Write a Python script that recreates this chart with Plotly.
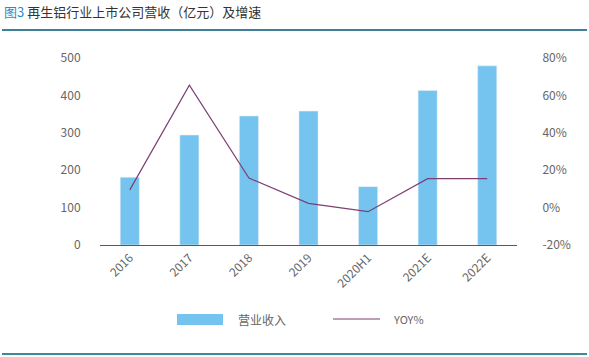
import plotly.graph_objects as go

categories = ["2016", "2017", "2018", "2019", "2020H1", "2021E", "2022E"]
revenue = [181, 294, 345, 358, 156, 413, 479]
yoy = [9.5, 65.5, 15.8, 2.3, -2.2, 15.5, 15.5]
left_ticks = [0, 100, 200, 300, 400, 500]
right_ticks = [-20, 0, 20, 40, 60, 80]

W, H = 589, 357
L, R, T, B = 100, 72, 58, 112
pw, ph = W - L - R, H - T - B

def px(x):
    return (x - L) / pw

def py(y):
    return (H - B - y) / ph

BAR = "#75c4ef"
LINE = "#7b3f72"
TXT = "#666666"
FONT = "Noto Sans CJK SC"

fig = go.Figure()
fig.add_trace(go.Bar(x=categories, y=revenue, marker_color=BAR, name="营业收入", yaxis="y"))
fig.add_trace(go.Scatter(x=categories, y=yoy, mode="lines", line=dict(color=LINE, width=1.2),
                         name="YOY%", yaxis="y2"))

fig.update_layout(
    width=W, height=H,
    margin=dict(l=L, r=R, t=T, b=B),
    paper_bgcolor="white", plot_bgcolor="white",
    showlegend=False,
    bargap=0.68,
    font=dict(family=FONT, color=TXT, size=12),
    xaxis=dict(tickangle=-45, showgrid=False, showline=True, linecolor="#595959", linewidth=1.2,
               ticks="", tickfont=dict(size=12, color=TXT)),
    yaxis=dict(range=[0, 500], tickvals=left_ticks, showgrid=False, zeroline=False,
               ticks="outside", ticklen=16, tickcolor="white", tickfont=dict(size=12, color=TXT)),
    yaxis2=dict(range=[-20, 80], tickvals=right_ticks, ticktext=[f"{v}%" for v in right_ticks],
                overlaying="y", side="right", showgrid=False, zeroline=False,
                ticks="outside", ticklen=22, tickcolor="white", tickfont=dict(size=12, color=TXT)),
)

shapes = [
    dict(type="line", xref="paper", yref="paper", x0=px(2), x1=px(587), y0=py(30), y1=py(30),
         line=dict(color="#3f7f98", width=2)),
    dict(type="line", xref="paper", yref="paper", x0=px(2), x1=px(587), y0=py(354), y1=py(354),
         line=dict(color="#3a8a96", width=2)),
    dict(type="rect", xref="paper", yref="paper", x0=px(177), x1=px(223), y0=py(325), y1=py(314),
         fillcolor=BAR, line=dict(width=0)),
    dict(type="line", xref="paper", yref="paper", x0=px(333), x1=px(380), y0=py(319), y1=py(319),
         line=dict(color=LINE, width=1.2)),
]
fig.update_layout(shapes=shapes)

annotations = [
    dict(xref="paper", yref="paper", x=px(2), y=py(12), xanchor="left", yanchor="middle",
         showarrow=False, text="<span style='color:#2e8bc9'>图3</span> 再生铝行业上市公司营收（亿元）及增速",
         font=dict(family=FONT, size=13, color="#333333")),
    dict(xref="paper", yref="paper", x=px(236), y=py(319), xanchor="left", yanchor="middle",
         showarrow=False, text="营业收入", font=dict(family=FONT, size=12, color=TXT)),
    dict(xref="paper", yref="paper", x=px(391), y=py(319), xanchor="left", yanchor="middle",
         showarrow=False, text="YOY%", font=dict(family=FONT, size=11, color=TXT)),
]
fig.update_layout(annotations=annotations)

fig.write_html("out.html", config={"displayModeBar": False},
               post_script="document.body.style.margin='0';document.body.style.overflow='hidden';")
